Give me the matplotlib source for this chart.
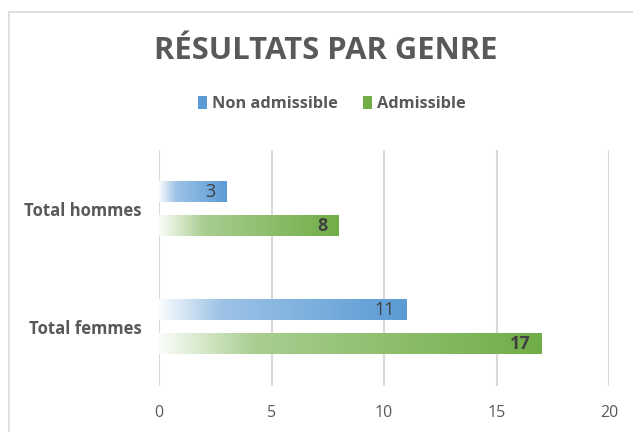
import numpy as np
import matplotlib
matplotlib.use('Agg')
import matplotlib.pyplot as plt
from matplotlib.patches import Rectangle, Patch
from matplotlib.colors import to_rgb

# data
categories = ['Total femmes', 'Total hommes']
non_admissible = [11, 3]
admissible = [17, 8]
series_names = ['Non admissible', 'Admissible']
ticks = [0, 5, 10, 15, 20]

blue = '#5B9BD5'
green = '#70AD47'
txt = '#595959'
plt.rcParams['font.family'] = ['Open Sans', 'DejaVu Sans']


def gradient(color, n=256):
    # white -> 60% tint at 25% -> full colour at the end
    c = np.array(to_rgb(color))
    w = np.ones(3)
    t = np.linspace(0, 1, n)
    mix = np.interp(t, [0, 0.25, 1], [0.03, 0.6, 1.0])
    return (w[None, :] * (1 - mix[:, None]) + c[None, :] * mix[:, None])[None, :, :]


fig = plt.figure(figsize=(6.33, 4.32), dpi=100)
ax = fig.add_axes([159 / 633, 1 - 386 / 432, 450 / 633, 236 / 432])

# chart frame
fig.patches.append(Rectangle((9 / 633, -0.1), 1.2, 1 - 12 / 432 + 0.1,
                             transform=fig.transFigure, fill=False,
                             edgecolor='#d9d9d9', lw=1.2))

y = np.arange(len(categories))
h = 0.174
off = 0.144
for vals, color, dy, bold in [(non_admissible, blue, off, False),
                              (admissible, green, -off, True)]:
    for yi, v in zip(y, vals):
        y0, y1 = yi + dy - h / 2, yi + dy + h / 2
        ax.imshow(gradient(color), extent=[0, v, y0, y1], aspect='auto',
                  interpolation='bilinear', zorder=3)
        ax.text(v - 0.5, yi + dy, str(v), ha='right', va='center',
                fontsize=13, color='#404040',
                fontweight='bold' if bold else 'normal', zorder=5)

ax.set_xlim(0, 20)
ax.set_ylim(-0.5, 1.5)
ax.set_xticks(ticks)
ax.set_yticks(y)
ax.set_yticklabels(categories, fontsize=12, fontweight='bold', color=txt)
ax.tick_params(axis='x', length=0, pad=14, labelsize=11.5, labelcolor=txt)
ax.tick_params(axis='y', length=0, pad=12.5)
ax.grid(axis='x', color='#d9d9d9', lw=1.5, zorder=0)
for s in ax.spines.values():
    s.set_visible(False)

fig.text(326 / 633, 1 - 51 / 432, 'RÉSULTATS PAR GENRE', ha='center',
         va='center', fontsize=22.3, fontweight='bold', color=txt)

handles = [Patch(facecolor=blue), Patch(facecolor=green)]
fig.legend(handles, series_names, loc='center', ncol=2,
           bbox_to_anchor=(332 / 633, 1 - 104 / 432), frameon=False,
           handlelength=0.55, handleheight=0.9, handletextpad=0.3,
           columnspacing=1.5, prop={'size': 11.8, 'weight': 'bold'},
           labelcolor=txt)

fig.savefig('out.png', dpi=100)
